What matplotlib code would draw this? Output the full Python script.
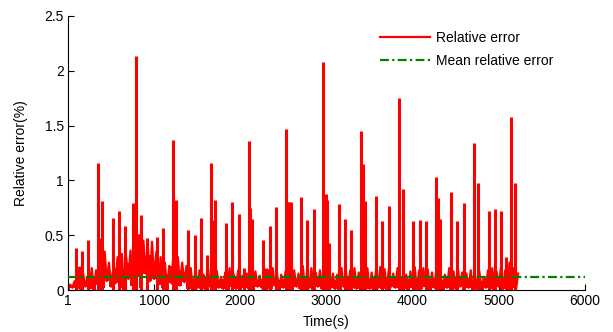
import matplotlib
matplotlib.use("Agg")
import matplotlib.pyplot as plt

plt.rcParams['font.family'] = ['Liberation Sans', 'DejaVu Sans']

# background band of the error signal, one pair per 50 s bin (0 .. 5200 s)
bin_step = 50
band_hi = [0.05, 0.08, 0.20, 0.15, 0.12, 0.20, 0.18, 0.28, 0.35, 0.25,
           0.20, 0.30, 0.33, 0.30, 0.36, 0.45, 0.50, 0.45, 0.42, 0.44,
           0.35, 0.30, 0.25, 0.22, 0.35, 0.30, 0.25, 0.22, 0.20, 0.15,
           0.18, 0.14, 0.20, 0.22, 0.18, 0.12, 0.16, 0.20, 0.14, 0.18,
           0.13, 0.15, 0.20, 0.17, 0.13, 0.15, 0.18, 0.20, 0.16, 0.14,
           0.17, 0.20, 0.18, 0.15, 0.22, 0.17, 0.20, 0.16, 0.18, 0.20,
           0.25, 0.15, 0.14, 0.20, 0.17, 0.18, 0.20, 0.16, 0.22, 0.20,
           0.16, 0.18, 0.21, 0.19, 0.20, 0.15, 0.20, 0.12, 0.14, 0.17,
           0.21, 0.18, 0.20, 0.19, 0.16, 0.18, 0.16, 0.14, 0.20, 0.17,
           0.20, 0.16, 0.15, 0.18, 0.14, 0.17, 0.12, 0.18, 0.20, 0.17,
           0.20, 0.18, 0.25, 0.20, 0.15]
band_lo = [0.00, 0.02, 0.01, 0.00, 0.03, 0.01, 0.00, 0.05, 0.02, 0.08,
           0.03, 0.06, 0.02, 0.00, 0.10, 0.04, 0.12, 0.02, 0.15, 0.08,
           0.10, 0.05, 0.02, 0.00, 0.06, 0.00, 0.04, 0.07, 0.01, 0.00,
           0.02, 0.01, 0.00, 0.03, 0.00, 0.02, 0.01, 0.00, 0.03, 0.01,
           0.00, 0.02, 0.01, 0.00, 0.03, 0.02, 0.00, 0.01, 0.04, 0.00,
           0.02, 0.01, 0.00, 0.03, 0.01, 0.00, 0.02, 0.00, 0.03, 0.01,
           0.00, 0.02, 0.01, 0.00, 0.03, 0.00, 0.02, 0.01, 0.00, 0.04,
           0.01, 0.00, 0.02, 0.01, 0.00, 0.03, 0.02, 0.00, 0.01, 0.00,
           0.02, 0.00, 0.01, 0.03, 0.00, 0.02, 0.01, 0.00, 0.02, 0.00,
           0.01, 0.03, 0.00, 0.02, 0.00, 0.01, 0.00, 0.02, 0.01, 0.00,
           0.03, 0.01, 0.00, 0.02, 0.00]
# solid core of the band (the part that reads as filled red)
band_core = [0.03, 0.05, 0.12, 0.10, 0.08, 0.12, 0.10, 0.18, 0.22, 0.18,
             0.14, 0.20, 0.22, 0.20, 0.25, 0.32, 0.38, 0.33, 0.30, 0.32,
             0.25, 0.22, 0.18, 0.15, 0.22, 0.20, 0.18, 0.15, 0.12, 0.10,
             0.12, 0.09, 0.12, 0.13, 0.11, 0.08, 0.10, 0.12, 0.09, 0.11,
             0.08, 0.10, 0.12, 0.10, 0.08, 0.10, 0.11, 0.12, 0.10, 0.09,
             0.10, 0.12, 0.11, 0.10, 0.13, 0.10, 0.12, 0.10, 0.11, 0.12,
             0.14, 0.10, 0.09, 0.12, 0.10, 0.11, 0.12, 0.10, 0.13, 0.12,
             0.10, 0.11, 0.12, 0.11, 0.12, 0.10, 0.12, 0.08, 0.09, 0.10,
             0.12, 0.11, 0.12, 0.11, 0.10, 0.11, 0.10, 0.09, 0.12, 0.10,
             0.12, 0.10, 0.09, 0.11, 0.09, 0.10, 0.08, 0.11, 0.12, 0.10,
             0.12, 0.11, 0.14, 0.12, 0.09]

# isolated peaks (time s, relative error %)
spike_t = [93, 140, 167, 237, 353, 370, 400, 527, 596, 662, 752, 794, 848,
           920, 1037, 1107, 1223, 1250, 1397, 1474, 1544, 1615, 1664, 1687,
           1707, 1838, 1908, 1986, 2040, 2096, 2118, 2135, 2266, 2300, 2343,
           2416, 2532, 2555, 2570, 2587, 2708, 2778, 2852, 2963, 2990, 3013,
           3035, 3146, 3219, 3289, 3401, 3425, 3450, 3575, 3649, 3726, 3839,
           3886, 4010, 4084, 4157, 4273, 4297, 4316, 4446, 4520, 4597, 4710,
           4760, 4884, 4958, 5032, 5085, 5148, 5190]
spike_v = [0.38, 0.22, 0.36, 0.46, 1.16, 0.47, 0.81, 0.66, 0.72, 0.58, 0.79,
           2.13, 0.68, 0.47, 0.48, 0.57, 1.37, 0.82, 0.55, 0.50, 0.66, 0.32,
           1.16, 0.64, 0.82, 0.61, 0.80, 0.69, 0.20, 1.36, 0.75, 0.65, 0.46,
           0.20, 0.58, 0.76, 1.47, 0.80, 0.80, 0.80, 0.85, 0.64, 0.74, 2.08,
           0.88, 0.82, 0.43, 0.78, 0.65, 0.55, 1.45, 1.15, 0.81, 0.86, 0.63,
           0.77, 1.75, 0.92, 0.63, 0.64, 0.63, 1.03, 0.84, 0.65, 0.89, 0.63,
           0.79, 1.34, 0.98, 0.72, 0.74, 0.72, 0.30, 1.58, 0.98]

mean_err = 0.115
t_end = 6000

bin_t = [i * bin_step + 1 for i in range(len(band_hi))]

# zigzag trace through the band
zz_t, zz_v = [], []
for i in range(len(band_hi)):
    zz_t += [bin_t[i], bin_t[i] + 25]
    zz_v += [band_lo[i], band_hi[i]]

fig = plt.figure(figsize=(6.13, 3.32), dpi=100)
ax = fig.add_axes([0.111, 0.1265, 0.843, 0.8255])

ax.fill_between(bin_t, band_lo, band_core, step='mid', color='red', lw=0)
ax.plot(zz_t, zz_v, color='red', lw=1.6, label='Relative error')
ax.vlines(spike_t, 0, spike_v, color='red', lw=2.2)
ax.plot([1, t_end], [mean_err, mean_err], color='green', lw=1.6,
        ls=(0, (4, 1.5, 1, 1.5)), label='Mean relative error', zorder=4)

ax.set_xlim(1, 6000)
ax.set_ylim(0, 2.5)
ax.set_xticks([1, 1000, 2000, 3000, 4000, 5000, 6000])
ax.set_xticklabels(['1', '1000', '2000', '3000', '4000', '5000', '6000'])
ax.set_yticks([0, 0.5, 1, 1.5, 2, 2.5])
ax.set_yticklabels(['0', '0.5', '1', '1.5', '2', '2.5'])
ax.tick_params(direction='in', labelsize=10, length=4, pad=3)
ax.spines['top'].set_visible(False)
ax.spines['right'].set_visible(False)
ax.set_xlabel('Time(s)', fontsize=10, labelpad=5)
ax.set_ylabel('Relative error(%)', fontsize=10, labelpad=12)

ax.legend(loc='upper right', bbox_to_anchor=(0.963, 0.99), frameon=False,
          fontsize=10, handlelength=3.6, handletextpad=0.4, labelspacing=0.65)

fig.savefig('out.png', dpi=100)
